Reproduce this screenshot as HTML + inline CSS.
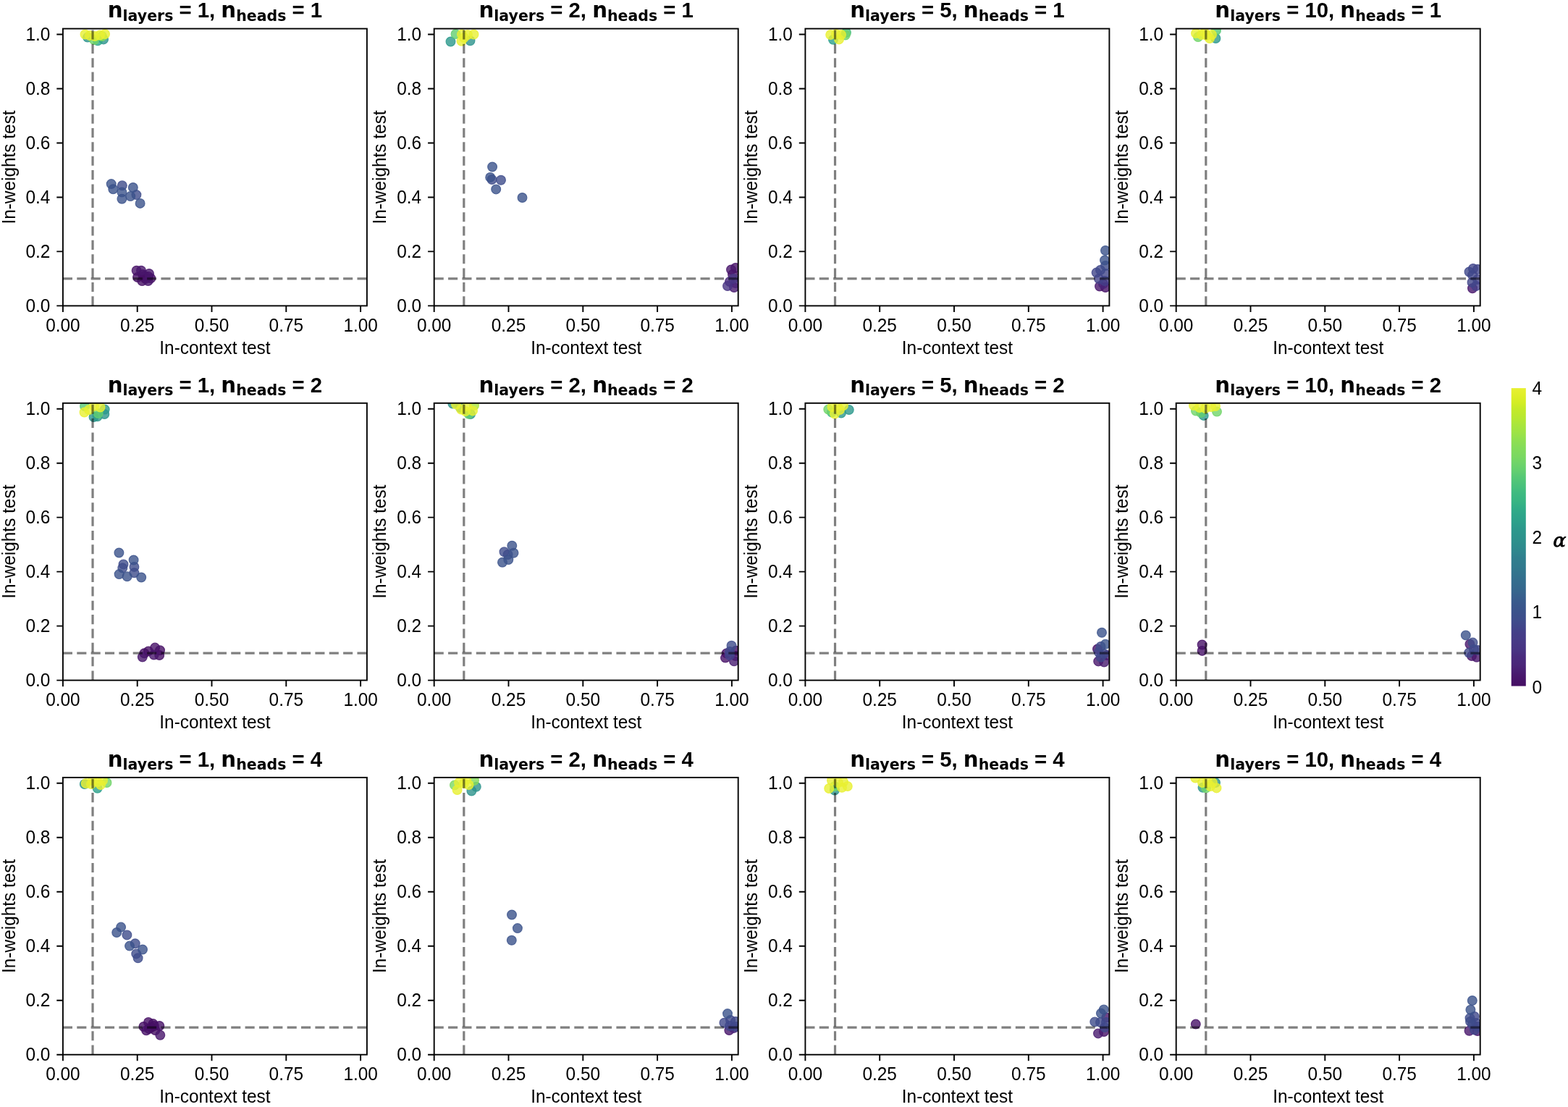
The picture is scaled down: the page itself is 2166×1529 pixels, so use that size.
<!DOCTYPE html><html><head><meta charset="utf-8"><style>html,body{margin:0;padding:0;background:#fff;}svg{display:block;}text{font-family:"Liberation Sans",Arial,sans-serif;fill:#000;}.dj{font-family:"DejaVu Sans",sans-serif;}.ttl{white-space:pre;}.tk{font-size:24.4px;}.lab{font-size:24.4px;}.ttl{font-size:29.3px;font-weight:bold;}</style></head><body>
<svg width="2166" height="1529" viewBox="0 0 2166 1529">
<rect width="2166" height="1529" fill="#fff"/>
<defs><clipPath id="c00"><rect x="86.9" y="39.6" width="420" height="382.8"/></clipPath><clipPath id="c01"><rect x="599.7" y="39.6" width="420" height="382.8"/></clipPath><clipPath id="c02"><rect x="1112.4" y="39.6" width="420" height="382.8"/></clipPath><clipPath id="c03"><rect x="1624.7" y="39.6" width="420" height="382.8"/></clipPath><clipPath id="c10"><rect x="86.9" y="556.8" width="420" height="382.8"/></clipPath><clipPath id="c11"><rect x="599.7" y="556.8" width="420" height="382.8"/></clipPath><clipPath id="c12"><rect x="1112.4" y="556.8" width="420" height="382.8"/></clipPath><clipPath id="c13"><rect x="1624.7" y="556.8" width="420" height="382.8"/></clipPath><clipPath id="c20"><rect x="86.9" y="1073.9" width="420" height="382.8"/></clipPath><clipPath id="c21"><rect x="599.7" y="1073.9" width="420" height="382.8"/></clipPath><clipPath id="c22"><rect x="1112.4" y="1073.9" width="420" height="382.8"/></clipPath><clipPath id="c23"><rect x="1624.7" y="1073.9" width="420" height="382.8"/></clipPath><linearGradient id="cbg" x1="0" y1="0" x2="0" y2="1"><stop offset="0" stop-color="#e8f032"/><stop offset="0.03" stop-color="#ddee28"/><stop offset="0.05" stop-color="#d2ed24"/><stop offset="0.07" stop-color="#c4ea29"/><stop offset="0.1" stop-color="#b7e831"/><stop offset="0.12" stop-color="#abe63b"/><stop offset="0.15" stop-color="#9de346"/><stop offset="0.17" stop-color="#91e04f"/><stop offset="0.2" stop-color="#84dc5a"/><stop offset="0.23" stop-color="#7ad862"/><stop offset="0.25" stop-color="#70d469"/><stop offset="0.28" stop-color="#61ce71"/><stop offset="0.3" stop-color="#55c876"/><stop offset="0.33" stop-color="#48c17c"/><stop offset="0.35" stop-color="#3fbb80"/><stop offset="0.38" stop-color="#37b583"/><stop offset="0.4" stop-color="#31ae87"/><stop offset="0.42" stop-color="#2ea789"/><stop offset="0.45" stop-color="#2ca08b"/><stop offset="0.47" stop-color="#2c998c"/><stop offset="0.5" stop-color="#2d938c"/><stop offset="0.53" stop-color="#2e8c8d"/><stop offset="0.55" stop-color="#2f868e"/><stop offset="0.57" stop-color="#307f8e"/><stop offset="0.6" stop-color="#317a8e"/><stop offset="0.62" stop-color="#32748e"/><stop offset="0.65" stop-color="#346d8e"/><stop offset="0.68" stop-color="#36668d"/><stop offset="0.7" stop-color="#385f8d"/><stop offset="0.72" stop-color="#39598c"/><stop offset="0.75" stop-color="#3b528b"/><stop offset="0.78" stop-color="#3f4c8b"/><stop offset="0.8" stop-color="#41468a"/><stop offset="0.82" stop-color="#443f88"/><stop offset="0.85" stop-color="#473a86"/><stop offset="0.88" stop-color="#483483"/><stop offset="0.9" stop-color="#492c7e"/><stop offset="0.93" stop-color="#4a2679"/><stop offset="0.95" stop-color="#491e72"/><stop offset="0.97" stop-color="#48166b"/><stop offset="1" stop-color="#460f64"/></linearGradient></defs>
<g clip-path="url(#c00)"><circle cx="208.3" cy="384.4" r="6.4" fill="#460f64" fill-opacity="0.8" stroke="#460f64" stroke-opacity="0.8" stroke-width="1.2"/><circle cx="196.3" cy="388.1" r="6.4" fill="#460f64" fill-opacity="0.8" stroke="#460f64" stroke-opacity="0.8" stroke-width="1.2"/><circle cx="190" cy="383" r="6.4" fill="#460f64" fill-opacity="0.8" stroke="#460f64" stroke-opacity="0.8" stroke-width="1.2"/><circle cx="200" cy="381" r="6.4" fill="#460f64" fill-opacity="0.8" stroke="#460f64" stroke-opacity="0.8" stroke-width="1.2"/><circle cx="201" cy="385" r="6.4" fill="#460f64" fill-opacity="0.8" stroke="#460f64" stroke-opacity="0.8" stroke-width="1.2"/><circle cx="205" cy="382" r="6.4" fill="#460f64" fill-opacity="0.8" stroke="#460f64" stroke-opacity="0.8" stroke-width="1.2"/><circle cx="197" cy="379" r="6.4" fill="#460f64" fill-opacity="0.8" stroke="#460f64" stroke-opacity="0.8" stroke-width="1.2"/><circle cx="188.6" cy="373.7" r="6.4" fill="#471268" fill-opacity="0.8" stroke="#471268" stroke-opacity="0.8" stroke-width="1.2"/><circle cx="195" cy="373.7" r="6.4" fill="#48166b" fill-opacity="0.8" stroke="#48166b" stroke-opacity="0.8" stroke-width="1.2"/><circle cx="206" cy="378" r="6.4" fill="#48166b" fill-opacity="0.8" stroke="#48166b" stroke-opacity="0.8" stroke-width="1.2"/><circle cx="204.6" cy="388" r="6.4" fill="#48166b" fill-opacity="0.8" stroke="#48166b" stroke-opacity="0.8" stroke-width="1.2"/><circle cx="168.8" cy="256.3" r="6.4" fill="#3f4c8b" fill-opacity="0.8" stroke="#3f4c8b" stroke-opacity="0.8" stroke-width="1.2"/><circle cx="188.4" cy="269.1" r="6.4" fill="#3f4c8b" fill-opacity="0.8" stroke="#3f4c8b" stroke-opacity="0.8" stroke-width="1.2"/><circle cx="153.7" cy="254.1" r="6.4" fill="#3b528b" fill-opacity="0.8" stroke="#3b528b" stroke-opacity="0.8" stroke-width="1.2"/><circle cx="156.3" cy="261.2" r="6.4" fill="#3b528b" fill-opacity="0.8" stroke="#3b528b" stroke-opacity="0.8" stroke-width="1.2"/><circle cx="168.4" cy="265.5" r="6.4" fill="#3b528b" fill-opacity="0.8" stroke="#3b528b" stroke-opacity="0.8" stroke-width="1.2"/><circle cx="168.4" cy="274.7" r="6.4" fill="#3b528b" fill-opacity="0.8" stroke="#3b528b" stroke-opacity="0.8" stroke-width="1.2"/><circle cx="183.8" cy="259" r="6.4" fill="#3b528b" fill-opacity="0.8" stroke="#3b528b" stroke-opacity="0.8" stroke-width="1.2"/><circle cx="180.2" cy="271.1" r="6.4" fill="#3b528b" fill-opacity="0.8" stroke="#3b528b" stroke-opacity="0.8" stroke-width="1.2"/><circle cx="193.6" cy="280.9" r="6.4" fill="#3b528b" fill-opacity="0.8" stroke="#3b528b" stroke-opacity="0.8" stroke-width="1.2"/><circle cx="121" cy="51.6" r="6.4" fill="#2d938c" fill-opacity="0.8" stroke="#2d938c" stroke-opacity="0.8" stroke-width="1.2"/><circle cx="143" cy="54.4" r="6.4" fill="#2d938c" fill-opacity="0.8" stroke="#2d938c" stroke-opacity="0.8" stroke-width="1.2"/><circle cx="135" cy="56.3" r="6.4" fill="#2ea789" fill-opacity="0.8" stroke="#2ea789" stroke-opacity="0.8" stroke-width="1.2"/><circle cx="130" cy="55" r="6.4" fill="#70d469" fill-opacity="0.8" stroke="#70d469" stroke-opacity="0.8" stroke-width="1.2"/><circle cx="141" cy="50" r="6.4" fill="#84dc5a" fill-opacity="0.8" stroke="#84dc5a" stroke-opacity="0.8" stroke-width="1.2"/><circle cx="117.5" cy="47.5" r="6.4" fill="#e8f032" fill-opacity="0.8" stroke="#e8f032" stroke-opacity="0.8" stroke-width="1.2"/><circle cx="124" cy="49" r="6.4" fill="#e8f032" fill-opacity="0.8" stroke="#e8f032" stroke-opacity="0.8" stroke-width="1.2"/><circle cx="131" cy="50" r="6.4" fill="#e8f032" fill-opacity="0.8" stroke="#e8f032" stroke-opacity="0.8" stroke-width="1.2"/><circle cx="138" cy="48.5" r="6.4" fill="#e8f032" fill-opacity="0.8" stroke="#e8f032" stroke-opacity="0.8" stroke-width="1.2"/><circle cx="145" cy="47" r="6.4" fill="#e8f032" fill-opacity="0.8" stroke="#e8f032" stroke-opacity="0.8" stroke-width="1.2"/><line x1="86.9" y1="384.91" x2="506.9" y2="384.91" stroke="#000" stroke-opacity="0.5" stroke-width="3.2" stroke-dasharray="13.1 6.26"/><line x1="128.02" y1="422.4" x2="128.02" y2="39.6" stroke="#000" stroke-opacity="0.5" stroke-width="3.2" stroke-dasharray="13.1 6.26"/></g><rect x="86.9" y="39.6" width="420" height="382.8" fill="none" stroke="#000" stroke-width="1.9" stroke-linejoin="miter" stroke-linecap="square"/><text class="tk" transform="translate(86.9 457.7) scale(1 1.04)" text-anchor="middle">0.00</text><text class="tk" transform="translate(189.7 457.7) scale(1 1.04)" text-anchor="middle">0.25</text><text class="tk" transform="translate(292.5 457.7) scale(1 1.04)" text-anchor="middle">0.50</text><text class="tk" transform="translate(395.3 457.7) scale(1 1.04)" text-anchor="middle">0.75</text><text class="tk" transform="translate(498.1 457.7) scale(1 1.04)" text-anchor="middle">1.00</text><text class="tk" transform="translate(69.3 431) scale(1 1.04)" text-anchor="end">0.0</text><text class="tk" transform="translate(69.3 356.02) scale(1 1.04)" text-anchor="end">0.2</text><text class="tk" transform="translate(69.3 281.04) scale(1 1.04)" text-anchor="end">0.4</text><text class="tk" transform="translate(69.3 206.06) scale(1 1.04)" text-anchor="end">0.6</text><text class="tk" transform="translate(69.3 131.08) scale(1 1.04)" text-anchor="end">0.8</text><text class="tk" transform="translate(69.3 56.1) scale(1 1.04)" text-anchor="end">1.0</text><path d="M86.9 422.4v8.6M189.7 422.4v8.6M292.5 422.4v8.6M395.3 422.4v8.6M498.1 422.4v8.6M86.9 422.4h-8.6M86.9 347.42h-8.6M86.9 272.44h-8.6M86.9 197.46h-8.6M86.9 122.48h-8.6M86.9 47.5h-8.6" stroke="#000" stroke-width="1.9" fill="none"/><text class="lab" transform="translate(296.9 488.6) scale(1 1.04)" text-anchor="middle">In-context test</text><text class="lab" transform="translate(20.6 231) rotate(-90) scale(1 1.04)" text-anchor="middle">In-weights test</text><text class="ttl" x="296.9" y="24.3" text-anchor="middle"><tspan class="dj">n</tspan><tspan class="dj" font-size="20.5" dy="4.4">layers</tspan><tspan dy="-4.4"> = 1, </tspan><tspan class="dj">n</tspan><tspan class="dj" font-size="20.5" dy="4.4">heads</tspan><tspan dy="-4.4"> = 1</tspan></text>
<g clip-path="url(#c01)"><circle cx="1016" cy="370" r="6.4" fill="#471268" fill-opacity="0.8" stroke="#471268" stroke-opacity="0.8" stroke-width="1.2"/><circle cx="1012" cy="379" r="6.4" fill="#471268" fill-opacity="0.8" stroke="#471268" stroke-opacity="0.8" stroke-width="1.2"/><circle cx="1010" cy="372.5" r="6.4" fill="#48166b" fill-opacity="0.8" stroke="#48166b" stroke-opacity="0.8" stroke-width="1.2"/><circle cx="1014" cy="397" r="6.4" fill="#491a6f" fill-opacity="0.8" stroke="#491a6f" stroke-opacity="0.8" stroke-width="1.2"/><circle cx="1016" cy="391" r="6.4" fill="#4a2679" fill-opacity="0.8" stroke="#4a2679" stroke-opacity="0.8" stroke-width="1.2"/><circle cx="1008" cy="389" r="6.4" fill="#4a297c" fill-opacity="0.8" stroke="#4a297c" stroke-opacity="0.8" stroke-width="1.2"/><circle cx="1005" cy="395" r="6.4" fill="#483483" fill-opacity="0.8" stroke="#483483" stroke-opacity="0.8" stroke-width="1.2"/><circle cx="1013" cy="385" r="6.4" fill="#483785" fill-opacity="0.8" stroke="#483785" stroke-opacity="0.8" stroke-width="1.2"/><circle cx="679.5" cy="248" r="6.4" fill="#3f4c8b" fill-opacity="0.8" stroke="#3f4c8b" stroke-opacity="0.8" stroke-width="1.2"/><circle cx="692" cy="248.8" r="6.4" fill="#3f4c8b" fill-opacity="0.8" stroke="#3f4c8b" stroke-opacity="0.8" stroke-width="1.2"/><circle cx="680.1" cy="230.5" r="6.4" fill="#3b528b" fill-opacity="0.8" stroke="#3b528b" stroke-opacity="0.8" stroke-width="1.2"/><circle cx="677.2" cy="244.9" r="6.4" fill="#3b528b" fill-opacity="0.8" stroke="#3b528b" stroke-opacity="0.8" stroke-width="1.2"/><circle cx="685.2" cy="261.4" r="6.4" fill="#3b528b" fill-opacity="0.8" stroke="#3b528b" stroke-opacity="0.8" stroke-width="1.2"/><circle cx="721.5" cy="273" r="6.4" fill="#3b528b" fill-opacity="0.8" stroke="#3b528b" stroke-opacity="0.8" stroke-width="1.2"/><circle cx="649.5" cy="56.3" r="6.4" fill="#2d938c" fill-opacity="0.8" stroke="#2d938c" stroke-opacity="0.8" stroke-width="1.2"/><circle cx="622.5" cy="57.5" r="6.4" fill="#2c998c" fill-opacity="0.8" stroke="#2c998c" stroke-opacity="0.8" stroke-width="1.2"/><circle cx="629.5" cy="47" r="6.4" fill="#61ce71" fill-opacity="0.8" stroke="#61ce71" stroke-opacity="0.8" stroke-width="1.2"/><circle cx="637.5" cy="56.7" r="6.4" fill="#e8f032" fill-opacity="0.8" stroke="#e8f032" stroke-opacity="0.8" stroke-width="1.2"/><circle cx="638" cy="47.5" r="6.4" fill="#e8f032" fill-opacity="0.8" stroke="#e8f032" stroke-opacity="0.8" stroke-width="1.2"/><circle cx="646" cy="48" r="6.4" fill="#e8f032" fill-opacity="0.8" stroke="#e8f032" stroke-opacity="0.8" stroke-width="1.2"/><circle cx="654.5" cy="47.5" r="6.4" fill="#e8f032" fill-opacity="0.8" stroke="#e8f032" stroke-opacity="0.8" stroke-width="1.2"/><circle cx="641" cy="52" r="6.4" fill="#e8f032" fill-opacity="0.8" stroke="#e8f032" stroke-opacity="0.8" stroke-width="1.2"/><line x1="599.7" y1="384.91" x2="1019.7" y2="384.91" stroke="#000" stroke-opacity="0.5" stroke-width="3.2" stroke-dasharray="13.1 6.26"/><line x1="640.82" y1="422.4" x2="640.82" y2="39.6" stroke="#000" stroke-opacity="0.5" stroke-width="3.2" stroke-dasharray="13.1 6.26"/></g><rect x="599.7" y="39.6" width="420" height="382.8" fill="none" stroke="#000" stroke-width="1.9" stroke-linejoin="miter" stroke-linecap="square"/><text class="tk" transform="translate(599.7 457.7) scale(1 1.04)" text-anchor="middle">0.00</text><text class="tk" transform="translate(702.5 457.7) scale(1 1.04)" text-anchor="middle">0.25</text><text class="tk" transform="translate(805.3 457.7) scale(1 1.04)" text-anchor="middle">0.50</text><text class="tk" transform="translate(908.1 457.7) scale(1 1.04)" text-anchor="middle">0.75</text><text class="tk" transform="translate(1010.9 457.7) scale(1 1.04)" text-anchor="middle">1.00</text><text class="tk" transform="translate(582.1 431) scale(1 1.04)" text-anchor="end">0.0</text><text class="tk" transform="translate(582.1 356.02) scale(1 1.04)" text-anchor="end">0.2</text><text class="tk" transform="translate(582.1 281.04) scale(1 1.04)" text-anchor="end">0.4</text><text class="tk" transform="translate(582.1 206.06) scale(1 1.04)" text-anchor="end">0.6</text><text class="tk" transform="translate(582.1 131.08) scale(1 1.04)" text-anchor="end">0.8</text><text class="tk" transform="translate(582.1 56.1) scale(1 1.04)" text-anchor="end">1.0</text><path d="M599.7 422.4v8.6M702.5 422.4v8.6M805.3 422.4v8.6M908.1 422.4v8.6M1010.9 422.4v8.6M599.7 422.4h-8.6M599.7 347.42h-8.6M599.7 272.44h-8.6M599.7 197.46h-8.6M599.7 122.48h-8.6M599.7 47.5h-8.6" stroke="#000" stroke-width="1.9" fill="none"/><text class="lab" transform="translate(809.7 488.6) scale(1 1.04)" text-anchor="middle">In-context test</text><text class="lab" transform="translate(533.4 231) rotate(-90) scale(1 1.04)" text-anchor="middle">In-weights test</text><text class="ttl" x="809.7" y="24.3" text-anchor="middle"><tspan class="dj">n</tspan><tspan class="dj" font-size="20.5" dy="4.4">layers</tspan><tspan dy="-4.4"> = 2, </tspan><tspan class="dj">n</tspan><tspan class="dj" font-size="20.5" dy="4.4">heads</tspan><tspan dy="-4.4"> = 1</tspan></text>
<g clip-path="url(#c02)"><circle cx="1527" cy="397" r="6.4" fill="#471268" fill-opacity="0.8" stroke="#471268" stroke-opacity="0.8" stroke-width="1.2"/><circle cx="1519" cy="395.5" r="6.4" fill="#48166b" fill-opacity="0.8" stroke="#48166b" stroke-opacity="0.8" stroke-width="1.2"/><circle cx="1524" cy="392" r="6.4" fill="#4a2679" fill-opacity="0.8" stroke="#4a2679" stroke-opacity="0.8" stroke-width="1.2"/><circle cx="1526" cy="388" r="6.4" fill="#443f88" fill-opacity="0.8" stroke="#443f88" stroke-opacity="0.8" stroke-width="1.2"/><circle cx="1518" cy="385" r="6.4" fill="#43438a" fill-opacity="0.8" stroke="#43438a" stroke-opacity="0.8" stroke-width="1.2"/><circle cx="1514.6" cy="376.6" r="6.4" fill="#41468a" fill-opacity="0.8" stroke="#41468a" stroke-opacity="0.8" stroke-width="1.2"/><circle cx="1527" cy="378" r="6.4" fill="#41468a" fill-opacity="0.8" stroke="#41468a" stroke-opacity="0.8" stroke-width="1.2"/><circle cx="1520" cy="373" r="6.4" fill="#40498b" fill-opacity="0.8" stroke="#40498b" stroke-opacity="0.8" stroke-width="1.2"/><circle cx="1527" cy="367" r="6.4" fill="#3f4c8b" fill-opacity="0.8" stroke="#3f4c8b" stroke-opacity="0.8" stroke-width="1.2"/><circle cx="1527" cy="346" r="6.4" fill="#3b528b" fill-opacity="0.8" stroke="#3b528b" stroke-opacity="0.8" stroke-width="1.2"/><circle cx="1526" cy="359.5" r="6.4" fill="#3b528b" fill-opacity="0.8" stroke="#3b528b" stroke-opacity="0.8" stroke-width="1.2"/><circle cx="1151" cy="54.7" r="6.4" fill="#2ca08b" fill-opacity="0.8" stroke="#2ca08b" stroke-opacity="0.8" stroke-width="1.2"/><circle cx="1169" cy="45" r="6.4" fill="#48c17c" fill-opacity="0.8" stroke="#48c17c" stroke-opacity="0.8" stroke-width="1.2"/><circle cx="1167.8" cy="48.5" r="6.4" fill="#70d469" fill-opacity="0.8" stroke="#70d469" stroke-opacity="0.8" stroke-width="1.2"/><circle cx="1147.2" cy="48" r="6.4" fill="#e8f032" fill-opacity="0.8" stroke="#e8f032" stroke-opacity="0.8" stroke-width="1.2"/><circle cx="1155" cy="47" r="6.4" fill="#e8f032" fill-opacity="0.8" stroke="#e8f032" stroke-opacity="0.8" stroke-width="1.2"/><circle cx="1162" cy="48" r="6.4" fill="#e8f032" fill-opacity="0.8" stroke="#e8f032" stroke-opacity="0.8" stroke-width="1.2"/><circle cx="1159" cy="54.4" r="6.4" fill="#e8f032" fill-opacity="0.8" stroke="#e8f032" stroke-opacity="0.8" stroke-width="1.2"/><line x1="1112.4" y1="384.91" x2="1532.4" y2="384.91" stroke="#000" stroke-opacity="0.5" stroke-width="3.2" stroke-dasharray="13.1 6.26"/><line x1="1153.52" y1="422.4" x2="1153.52" y2="39.6" stroke="#000" stroke-opacity="0.5" stroke-width="3.2" stroke-dasharray="13.1 6.26"/></g><rect x="1112.4" y="39.6" width="420" height="382.8" fill="none" stroke="#000" stroke-width="1.9" stroke-linejoin="miter" stroke-linecap="square"/><text class="tk" transform="translate(1112.4 457.7) scale(1 1.04)" text-anchor="middle">0.00</text><text class="tk" transform="translate(1215.2 457.7) scale(1 1.04)" text-anchor="middle">0.25</text><text class="tk" transform="translate(1318 457.7) scale(1 1.04)" text-anchor="middle">0.50</text><text class="tk" transform="translate(1420.8 457.7) scale(1 1.04)" text-anchor="middle">0.75</text><text class="tk" transform="translate(1523.6 457.7) scale(1 1.04)" text-anchor="middle">1.00</text><text class="tk" transform="translate(1094.8 431) scale(1 1.04)" text-anchor="end">0.0</text><text class="tk" transform="translate(1094.8 356.02) scale(1 1.04)" text-anchor="end">0.2</text><text class="tk" transform="translate(1094.8 281.04) scale(1 1.04)" text-anchor="end">0.4</text><text class="tk" transform="translate(1094.8 206.06) scale(1 1.04)" text-anchor="end">0.6</text><text class="tk" transform="translate(1094.8 131.08) scale(1 1.04)" text-anchor="end">0.8</text><text class="tk" transform="translate(1094.8 56.1) scale(1 1.04)" text-anchor="end">1.0</text><path d="M1112.4 422.4v8.6M1215.2 422.4v8.6M1318 422.4v8.6M1420.8 422.4v8.6M1523.6 422.4v8.6M1112.4 422.4h-8.6M1112.4 347.42h-8.6M1112.4 272.44h-8.6M1112.4 197.46h-8.6M1112.4 122.48h-8.6M1112.4 47.5h-8.6" stroke="#000" stroke-width="1.9" fill="none"/><text class="lab" transform="translate(1322.4 488.6) scale(1 1.04)" text-anchor="middle">In-context test</text><text class="lab" transform="translate(1046.1 231) rotate(-90) scale(1 1.04)" text-anchor="middle">In-weights test</text><text class="ttl" x="1322.4" y="24.3" text-anchor="middle"><tspan class="dj">n</tspan><tspan class="dj" font-size="20.5" dy="4.4">layers</tspan><tspan dy="-4.4"> = 5, </tspan><tspan class="dj">n</tspan><tspan class="dj" font-size="20.5" dy="4.4">heads</tspan><tspan dy="-4.4"> = 1</tspan></text>
<g clip-path="url(#c03)"><circle cx="2034" cy="398.3" r="6.4" fill="#48166b" fill-opacity="0.8" stroke="#48166b" stroke-opacity="0.8" stroke-width="1.2"/><circle cx="2039" cy="395" r="6.4" fill="#443f88" fill-opacity="0.8" stroke="#443f88" stroke-opacity="0.8" stroke-width="1.2"/><circle cx="2041" cy="386" r="6.4" fill="#43438a" fill-opacity="0.8" stroke="#43438a" stroke-opacity="0.8" stroke-width="1.2"/><circle cx="2034.9" cy="371" r="6.4" fill="#41468a" fill-opacity="0.8" stroke="#41468a" stroke-opacity="0.8" stroke-width="1.2"/><circle cx="2041" cy="372" r="6.4" fill="#41468a" fill-opacity="0.8" stroke="#41468a" stroke-opacity="0.8" stroke-width="1.2"/><circle cx="2034" cy="380" r="6.4" fill="#41468a" fill-opacity="0.8" stroke="#41468a" stroke-opacity="0.8" stroke-width="1.2"/><circle cx="2033.5" cy="390" r="6.4" fill="#41468a" fill-opacity="0.8" stroke="#41468a" stroke-opacity="0.8" stroke-width="1.2"/><circle cx="2029.5" cy="375.5" r="6.4" fill="#40498b" fill-opacity="0.8" stroke="#40498b" stroke-opacity="0.8" stroke-width="1.2"/><circle cx="1679.4" cy="53" r="6.4" fill="#2c998c" fill-opacity="0.8" stroke="#2c998c" stroke-opacity="0.8" stroke-width="1.2"/><circle cx="1680" cy="42" r="6.4" fill="#55c876" fill-opacity="0.8" stroke="#55c876" stroke-opacity="0.8" stroke-width="1.2"/><circle cx="1655" cy="51.1" r="6.4" fill="#70d469" fill-opacity="0.8" stroke="#70d469" stroke-opacity="0.8" stroke-width="1.2"/><circle cx="1664" cy="45" r="6.4" fill="#e8f032" fill-opacity="0.8" stroke="#e8f032" stroke-opacity="0.8" stroke-width="1.2"/><circle cx="1652" cy="46" r="6.4" fill="#e8f032" fill-opacity="0.8" stroke="#e8f032" stroke-opacity="0.8" stroke-width="1.2"/><circle cx="1660" cy="48" r="6.4" fill="#e8f032" fill-opacity="0.8" stroke="#e8f032" stroke-opacity="0.8" stroke-width="1.2"/><circle cx="1667" cy="49" r="6.4" fill="#e8f032" fill-opacity="0.8" stroke="#e8f032" stroke-opacity="0.8" stroke-width="1.2"/><circle cx="1674" cy="48" r="6.4" fill="#e8f032" fill-opacity="0.8" stroke="#e8f032" stroke-opacity="0.8" stroke-width="1.2"/><circle cx="1671" cy="53" r="6.4" fill="#e8f032" fill-opacity="0.8" stroke="#e8f032" stroke-opacity="0.8" stroke-width="1.2"/><line x1="1624.7" y1="384.91" x2="2044.7" y2="384.91" stroke="#000" stroke-opacity="0.5" stroke-width="3.2" stroke-dasharray="13.1 6.26"/><line x1="1665.82" y1="422.4" x2="1665.82" y2="39.6" stroke="#000" stroke-opacity="0.5" stroke-width="3.2" stroke-dasharray="13.1 6.26"/></g><rect x="1624.7" y="39.6" width="420" height="382.8" fill="none" stroke="#000" stroke-width="1.9" stroke-linejoin="miter" stroke-linecap="square"/><text class="tk" transform="translate(1624.7 457.7) scale(1 1.04)" text-anchor="middle">0.00</text><text class="tk" transform="translate(1727.5 457.7) scale(1 1.04)" text-anchor="middle">0.25</text><text class="tk" transform="translate(1830.3 457.7) scale(1 1.04)" text-anchor="middle">0.50</text><text class="tk" transform="translate(1933.1 457.7) scale(1 1.04)" text-anchor="middle">0.75</text><text class="tk" transform="translate(2035.9 457.7) scale(1 1.04)" text-anchor="middle">1.00</text><text class="tk" transform="translate(1607.1 431) scale(1 1.04)" text-anchor="end">0.0</text><text class="tk" transform="translate(1607.1 356.02) scale(1 1.04)" text-anchor="end">0.2</text><text class="tk" transform="translate(1607.1 281.04) scale(1 1.04)" text-anchor="end">0.4</text><text class="tk" transform="translate(1607.1 206.06) scale(1 1.04)" text-anchor="end">0.6</text><text class="tk" transform="translate(1607.1 131.08) scale(1 1.04)" text-anchor="end">0.8</text><text class="tk" transform="translate(1607.1 56.1) scale(1 1.04)" text-anchor="end">1.0</text><path d="M1624.7 422.4v8.6M1727.5 422.4v8.6M1830.3 422.4v8.6M1933.1 422.4v8.6M2035.9 422.4v8.6M1624.7 422.4h-8.6M1624.7 347.42h-8.6M1624.7 272.44h-8.6M1624.7 197.46h-8.6M1624.7 122.48h-8.6M1624.7 47.5h-8.6" stroke="#000" stroke-width="1.9" fill="none"/><text class="lab" transform="translate(1834.7 488.6) scale(1 1.04)" text-anchor="middle">In-context test</text><text class="lab" transform="translate(1558.4 231) rotate(-90) scale(1 1.04)" text-anchor="middle">In-weights test</text><text class="ttl" x="1834.7" y="24.3" text-anchor="middle"><tspan class="dj">n</tspan><tspan class="dj" font-size="20.5" dy="4.4">layers</tspan><tspan dy="-4.4"> = 10, </tspan><tspan class="dj">n</tspan><tspan class="dj" font-size="20.5" dy="4.4">heads</tspan><tspan dy="-4.4"> = 1</tspan></text>
<g clip-path="url(#c10)"><circle cx="199.4" cy="902.2" r="6.4" fill="#460f64" fill-opacity="0.8" stroke="#460f64" stroke-opacity="0.8" stroke-width="1.2"/><circle cx="205" cy="899.4" r="6.4" fill="#460f64" fill-opacity="0.8" stroke="#460f64" stroke-opacity="0.8" stroke-width="1.2"/><circle cx="221" cy="898.3" r="6.4" fill="#460f64" fill-opacity="0.8" stroke="#460f64" stroke-opacity="0.8" stroke-width="1.2"/><circle cx="220.2" cy="905" r="6.4" fill="#460f64" fill-opacity="0.8" stroke="#460f64" stroke-opacity="0.8" stroke-width="1.2"/><circle cx="214.1" cy="894.6" r="6.4" fill="#471268" fill-opacity="0.8" stroke="#471268" stroke-opacity="0.8" stroke-width="1.2"/><circle cx="196.8" cy="907.5" r="6.4" fill="#48166b" fill-opacity="0.8" stroke="#48166b" stroke-opacity="0.8" stroke-width="1.2"/><circle cx="212.6" cy="904.5" r="6.4" fill="#48166b" fill-opacity="0.8" stroke="#48166b" stroke-opacity="0.8" stroke-width="1.2"/><circle cx="170.5" cy="779.4" r="6.4" fill="#3f4c8b" fill-opacity="0.8" stroke="#3f4c8b" stroke-opacity="0.8" stroke-width="1.2"/><circle cx="169.3" cy="784.5" r="6.4" fill="#3f4c8b" fill-opacity="0.8" stroke="#3f4c8b" stroke-opacity="0.8" stroke-width="1.2"/><circle cx="185.4" cy="782.9" r="6.4" fill="#3f4c8b" fill-opacity="0.8" stroke="#3f4c8b" stroke-opacity="0.8" stroke-width="1.2"/><circle cx="185.4" cy="791.2" r="6.4" fill="#3f4c8b" fill-opacity="0.8" stroke="#3f4c8b" stroke-opacity="0.8" stroke-width="1.2"/><circle cx="164.4" cy="763.5" r="6.4" fill="#3b528b" fill-opacity="0.8" stroke="#3b528b" stroke-opacity="0.8" stroke-width="1.2"/><circle cx="184.6" cy="773.5" r="6.4" fill="#3b528b" fill-opacity="0.8" stroke="#3b528b" stroke-opacity="0.8" stroke-width="1.2"/><circle cx="164.6" cy="793.1" r="6.4" fill="#3b528b" fill-opacity="0.8" stroke="#3b528b" stroke-opacity="0.8" stroke-width="1.2"/><circle cx="175.6" cy="796.3" r="6.4" fill="#3b528b" fill-opacity="0.8" stroke="#3b528b" stroke-opacity="0.8" stroke-width="1.2"/><circle cx="195.2" cy="797.5" r="6.4" fill="#3b528b" fill-opacity="0.8" stroke="#3b528b" stroke-opacity="0.8" stroke-width="1.2"/><circle cx="144.3" cy="572" r="6.4" fill="#2d938c" fill-opacity="0.8" stroke="#2d938c" stroke-opacity="0.8" stroke-width="1.2"/><circle cx="129.5" cy="576" r="6.4" fill="#2d938c" fill-opacity="0.8" stroke="#2d938c" stroke-opacity="0.8" stroke-width="1.2"/><circle cx="144.7" cy="565.5" r="6.4" fill="#2c998c" fill-opacity="0.8" stroke="#2c998c" stroke-opacity="0.8" stroke-width="1.2"/><circle cx="134.6" cy="575.3" r="6.4" fill="#2c998c" fill-opacity="0.8" stroke="#2c998c" stroke-opacity="0.8" stroke-width="1.2"/><circle cx="117" cy="561" r="6.4" fill="#55c876" fill-opacity="0.8" stroke="#55c876" stroke-opacity="0.8" stroke-width="1.2"/><circle cx="135.7" cy="571" r="6.4" fill="#61ce71" fill-opacity="0.8" stroke="#61ce71" stroke-opacity="0.8" stroke-width="1.2"/><circle cx="116.5" cy="569.5" r="6.4" fill="#e8f032" fill-opacity="0.8" stroke="#e8f032" stroke-opacity="0.8" stroke-width="1.2"/><circle cx="123" cy="566" r="6.4" fill="#e8f032" fill-opacity="0.8" stroke="#e8f032" stroke-opacity="0.8" stroke-width="1.2"/><circle cx="130" cy="561" r="6.4" fill="#e8f032" fill-opacity="0.8" stroke="#e8f032" stroke-opacity="0.8" stroke-width="1.2"/><circle cx="138.5" cy="562.5" r="6.4" fill="#e8f032" fill-opacity="0.8" stroke="#e8f032" stroke-opacity="0.8" stroke-width="1.2"/><line x1="86.9" y1="902.11" x2="506.9" y2="902.11" stroke="#000" stroke-opacity="0.5" stroke-width="3.2" stroke-dasharray="13.1 6.26"/><line x1="128.02" y1="939.6" x2="128.02" y2="556.8" stroke="#000" stroke-opacity="0.5" stroke-width="3.2" stroke-dasharray="13.1 6.26"/></g><rect x="86.9" y="556.8" width="420" height="382.8" fill="none" stroke="#000" stroke-width="1.9" stroke-linejoin="miter" stroke-linecap="square"/><text class="tk" transform="translate(86.9 974.9) scale(1 1.04)" text-anchor="middle">0.00</text><text class="tk" transform="translate(189.7 974.9) scale(1 1.04)" text-anchor="middle">0.25</text><text class="tk" transform="translate(292.5 974.9) scale(1 1.04)" text-anchor="middle">0.50</text><text class="tk" transform="translate(395.3 974.9) scale(1 1.04)" text-anchor="middle">0.75</text><text class="tk" transform="translate(498.1 974.9) scale(1 1.04)" text-anchor="middle">1.00</text><text class="tk" transform="translate(69.3 948.2) scale(1 1.04)" text-anchor="end">0.0</text><text class="tk" transform="translate(69.3 873.22) scale(1 1.04)" text-anchor="end">0.2</text><text class="tk" transform="translate(69.3 798.24) scale(1 1.04)" text-anchor="end">0.4</text><text class="tk" transform="translate(69.3 723.26) scale(1 1.04)" text-anchor="end">0.6</text><text class="tk" transform="translate(69.3 648.28) scale(1 1.04)" text-anchor="end">0.8</text><text class="tk" transform="translate(69.3 573.3) scale(1 1.04)" text-anchor="end">1.0</text><path d="M86.9 939.6v8.6M189.7 939.6v8.6M292.5 939.6v8.6M395.3 939.6v8.6M498.1 939.6v8.6M86.9 939.6h-8.6M86.9 864.62h-8.6M86.9 789.64h-8.6M86.9 714.66h-8.6M86.9 639.68h-8.6M86.9 564.7h-8.6" stroke="#000" stroke-width="1.9" fill="none"/><text class="lab" transform="translate(296.9 1005.8) scale(1 1.04)" text-anchor="middle">In-context test</text><text class="lab" transform="translate(20.6 748.2) rotate(-90) scale(1 1.04)" text-anchor="middle">In-weights test</text><text class="ttl" x="296.9" y="541.5" text-anchor="middle"><tspan class="dj">n</tspan><tspan class="dj" font-size="20.5" dy="4.4">layers</tspan><tspan dy="-4.4"> = 1, </tspan><tspan class="dj">n</tspan><tspan class="dj" font-size="20.5" dy="4.4">heads</tspan><tspan dy="-4.4"> = 2</tspan></text>
<g clip-path="url(#c11)"><circle cx="1016.7" cy="898.8" r="6.4" fill="#460f64" fill-opacity="0.8" stroke="#460f64" stroke-opacity="0.8" stroke-width="1.2"/><circle cx="1003.6" cy="902.4" r="6.4" fill="#471268" fill-opacity="0.8" stroke="#471268" stroke-opacity="0.8" stroke-width="1.2"/><circle cx="1002" cy="908.6" r="6.4" fill="#471268" fill-opacity="0.8" stroke="#471268" stroke-opacity="0.8" stroke-width="1.2"/><circle cx="1016" cy="906" r="6.4" fill="#471268" fill-opacity="0.8" stroke="#471268" stroke-opacity="0.8" stroke-width="1.2"/><circle cx="1014" cy="913.3" r="6.4" fill="#491e72" fill-opacity="0.8" stroke="#491e72" stroke-opacity="0.8" stroke-width="1.2"/><circle cx="1008" cy="905" r="6.4" fill="#43438a" fill-opacity="0.8" stroke="#43438a" stroke-opacity="0.8" stroke-width="1.2"/><circle cx="1008" cy="900" r="6.4" fill="#41468a" fill-opacity="0.8" stroke="#41468a" stroke-opacity="0.8" stroke-width="1.2"/><circle cx="696.5" cy="762.3" r="6.4" fill="#3f4c8b" fill-opacity="0.8" stroke="#3f4c8b" stroke-opacity="0.8" stroke-width="1.2"/><circle cx="701.6" cy="766" r="6.4" fill="#3f4c8b" fill-opacity="0.8" stroke="#3f4c8b" stroke-opacity="0.8" stroke-width="1.2"/><circle cx="1010.5" cy="891.8" r="6.4" fill="#3f4c8b" fill-opacity="0.8" stroke="#3f4c8b" stroke-opacity="0.8" stroke-width="1.2"/><circle cx="707.3" cy="753.7" r="6.4" fill="#3b528b" fill-opacity="0.8" stroke="#3b528b" stroke-opacity="0.8" stroke-width="1.2"/><circle cx="709.5" cy="763.8" r="6.4" fill="#3b528b" fill-opacity="0.8" stroke="#3b528b" stroke-opacity="0.8" stroke-width="1.2"/><circle cx="702.3" cy="773.1" r="6.4" fill="#3b528b" fill-opacity="0.8" stroke="#3b528b" stroke-opacity="0.8" stroke-width="1.2"/><circle cx="694" cy="776.7" r="6.4" fill="#3b528b" fill-opacity="0.8" stroke="#3b528b" stroke-opacity="0.8" stroke-width="1.2"/><circle cx="625.4" cy="557.5" r="6.4" fill="#2d938c" fill-opacity="0.8" stroke="#2d938c" stroke-opacity="0.8" stroke-width="1.2"/><circle cx="636" cy="563" r="6.4" fill="#2d938c" fill-opacity="0.8" stroke="#2d938c" stroke-opacity="0.8" stroke-width="1.2"/><circle cx="650" cy="572" r="6.4" fill="#2c998c" fill-opacity="0.8" stroke="#2c998c" stroke-opacity="0.8" stroke-width="1.2"/><circle cx="647.4" cy="571.7" r="6.4" fill="#61ce71" fill-opacity="0.8" stroke="#61ce71" stroke-opacity="0.8" stroke-width="1.2"/><circle cx="655" cy="560" r="6.4" fill="#abe63b" fill-opacity="0.8" stroke="#abe63b" stroke-opacity="0.8" stroke-width="1.2"/><circle cx="630" cy="558.5" r="6.4" fill="#e8f032" fill-opacity="0.8" stroke="#e8f032" stroke-opacity="0.8" stroke-width="1.2"/><circle cx="637" cy="565.5" r="6.4" fill="#e8f032" fill-opacity="0.8" stroke="#e8f032" stroke-opacity="0.8" stroke-width="1.2"/><circle cx="645" cy="561" r="6.4" fill="#e8f032" fill-opacity="0.8" stroke="#e8f032" stroke-opacity="0.8" stroke-width="1.2"/><circle cx="653" cy="567.4" r="6.4" fill="#e8f032" fill-opacity="0.8" stroke="#e8f032" stroke-opacity="0.8" stroke-width="1.2"/><circle cx="643" cy="568" r="6.4" fill="#e8f032" fill-opacity="0.8" stroke="#e8f032" stroke-opacity="0.8" stroke-width="1.2"/><line x1="599.7" y1="902.11" x2="1019.7" y2="902.11" stroke="#000" stroke-opacity="0.5" stroke-width="3.2" stroke-dasharray="13.1 6.26"/><line x1="640.82" y1="939.6" x2="640.82" y2="556.8" stroke="#000" stroke-opacity="0.5" stroke-width="3.2" stroke-dasharray="13.1 6.26"/></g><rect x="599.7" y="556.8" width="420" height="382.8" fill="none" stroke="#000" stroke-width="1.9" stroke-linejoin="miter" stroke-linecap="square"/><text class="tk" transform="translate(599.7 974.9) scale(1 1.04)" text-anchor="middle">0.00</text><text class="tk" transform="translate(702.5 974.9) scale(1 1.04)" text-anchor="middle">0.25</text><text class="tk" transform="translate(805.3 974.9) scale(1 1.04)" text-anchor="middle">0.50</text><text class="tk" transform="translate(908.1 974.9) scale(1 1.04)" text-anchor="middle">0.75</text><text class="tk" transform="translate(1010.9 974.9) scale(1 1.04)" text-anchor="middle">1.00</text><text class="tk" transform="translate(582.1 948.2) scale(1 1.04)" text-anchor="end">0.0</text><text class="tk" transform="translate(582.1 873.22) scale(1 1.04)" text-anchor="end">0.2</text><text class="tk" transform="translate(582.1 798.24) scale(1 1.04)" text-anchor="end">0.4</text><text class="tk" transform="translate(582.1 723.26) scale(1 1.04)" text-anchor="end">0.6</text><text class="tk" transform="translate(582.1 648.28) scale(1 1.04)" text-anchor="end">0.8</text><text class="tk" transform="translate(582.1 573.3) scale(1 1.04)" text-anchor="end">1.0</text><path d="M599.7 939.6v8.6M702.5 939.6v8.6M805.3 939.6v8.6M908.1 939.6v8.6M1010.9 939.6v8.6M599.7 939.6h-8.6M599.7 864.62h-8.6M599.7 789.64h-8.6M599.7 714.66h-8.6M599.7 639.68h-8.6M599.7 564.7h-8.6" stroke="#000" stroke-width="1.9" fill="none"/><text class="lab" transform="translate(809.7 1005.8) scale(1 1.04)" text-anchor="middle">In-context test</text><text class="lab" transform="translate(533.4 748.2) rotate(-90) scale(1 1.04)" text-anchor="middle">In-weights test</text><text class="ttl" x="809.7" y="541.5" text-anchor="middle"><tspan class="dj">n</tspan><tspan class="dj" font-size="20.5" dy="4.4">layers</tspan><tspan dy="-4.4"> = 2, </tspan><tspan class="dj">n</tspan><tspan class="dj" font-size="20.5" dy="4.4">heads</tspan><tspan dy="-4.4"> = 2</tspan></text>
<g clip-path="url(#c12)"><circle cx="1516" cy="896.5" r="6.4" fill="#471268" fill-opacity="0.8" stroke="#471268" stroke-opacity="0.8" stroke-width="1.2"/><circle cx="1517.2" cy="913.4" r="6.4" fill="#48166b" fill-opacity="0.8" stroke="#48166b" stroke-opacity="0.8" stroke-width="1.2"/><circle cx="1525.2" cy="914.5" r="6.4" fill="#491a6f" fill-opacity="0.8" stroke="#491a6f" stroke-opacity="0.8" stroke-width="1.2"/><circle cx="1529" cy="905" r="6.4" fill="#491e72" fill-opacity="0.8" stroke="#491e72" stroke-opacity="0.8" stroke-width="1.2"/><circle cx="1517.7" cy="900.8" r="6.4" fill="#41468a" fill-opacity="0.8" stroke="#41468a" stroke-opacity="0.8" stroke-width="1.2"/><circle cx="1520.6" cy="907.7" r="6.4" fill="#41468a" fill-opacity="0.8" stroke="#41468a" stroke-opacity="0.8" stroke-width="1.2"/><circle cx="1524.8" cy="903" r="6.4" fill="#40498b" fill-opacity="0.8" stroke="#40498b" stroke-opacity="0.8" stroke-width="1.2"/><circle cx="1520.6" cy="893" r="6.4" fill="#3f4c8b" fill-opacity="0.8" stroke="#3f4c8b" stroke-opacity="0.8" stroke-width="1.2"/><circle cx="1522" cy="873.8" r="6.4" fill="#3b528b" fill-opacity="0.8" stroke="#3b528b" stroke-opacity="0.8" stroke-width="1.2"/><circle cx="1527" cy="889.8" r="6.4" fill="#3b528b" fill-opacity="0.8" stroke="#3b528b" stroke-opacity="0.8" stroke-width="1.2"/><circle cx="1162" cy="570.5" r="6.4" fill="#2c998c" fill-opacity="0.8" stroke="#2c998c" stroke-opacity="0.8" stroke-width="1.2"/><circle cx="1172.8" cy="566" r="6.4" fill="#2c998c" fill-opacity="0.8" stroke="#2c998c" stroke-opacity="0.8" stroke-width="1.2"/><circle cx="1149" cy="569.5" r="6.4" fill="#3fbb80" fill-opacity="0.8" stroke="#3fbb80" stroke-opacity="0.8" stroke-width="1.2"/><circle cx="1144.3" cy="565.5" r="6.4" fill="#70d469" fill-opacity="0.8" stroke="#70d469" stroke-opacity="0.8" stroke-width="1.2"/><circle cx="1149.5" cy="562" r="6.4" fill="#e8f032" fill-opacity="0.8" stroke="#e8f032" stroke-opacity="0.8" stroke-width="1.2"/><circle cx="1157" cy="562" r="6.4" fill="#e8f032" fill-opacity="0.8" stroke="#e8f032" stroke-opacity="0.8" stroke-width="1.2"/><circle cx="1165" cy="560" r="6.4" fill="#e8f032" fill-opacity="0.8" stroke="#e8f032" stroke-opacity="0.8" stroke-width="1.2"/><circle cx="1153" cy="571.6" r="6.4" fill="#e8f032" fill-opacity="0.8" stroke="#e8f032" stroke-opacity="0.8" stroke-width="1.2"/><circle cx="1160" cy="566" r="6.4" fill="#e8f032" fill-opacity="0.8" stroke="#e8f032" stroke-opacity="0.8" stroke-width="1.2"/><line x1="1112.4" y1="902.11" x2="1532.4" y2="902.11" stroke="#000" stroke-opacity="0.5" stroke-width="3.2" stroke-dasharray="13.1 6.26"/><line x1="1153.52" y1="939.6" x2="1153.52" y2="556.8" stroke="#000" stroke-opacity="0.5" stroke-width="3.2" stroke-dasharray="13.1 6.26"/></g><rect x="1112.4" y="556.8" width="420" height="382.8" fill="none" stroke="#000" stroke-width="1.9" stroke-linejoin="miter" stroke-linecap="square"/><text class="tk" transform="translate(1112.4 974.9) scale(1 1.04)" text-anchor="middle">0.00</text><text class="tk" transform="translate(1215.2 974.9) scale(1 1.04)" text-anchor="middle">0.25</text><text class="tk" transform="translate(1318 974.9) scale(1 1.04)" text-anchor="middle">0.50</text><text class="tk" transform="translate(1420.8 974.9) scale(1 1.04)" text-anchor="middle">0.75</text><text class="tk" transform="translate(1523.6 974.9) scale(1 1.04)" text-anchor="middle">1.00</text><text class="tk" transform="translate(1094.8 948.2) scale(1 1.04)" text-anchor="end">0.0</text><text class="tk" transform="translate(1094.8 873.22) scale(1 1.04)" text-anchor="end">0.2</text><text class="tk" transform="translate(1094.8 798.24) scale(1 1.04)" text-anchor="end">0.4</text><text class="tk" transform="translate(1094.8 723.26) scale(1 1.04)" text-anchor="end">0.6</text><text class="tk" transform="translate(1094.8 648.28) scale(1 1.04)" text-anchor="end">0.8</text><text class="tk" transform="translate(1094.8 573.3) scale(1 1.04)" text-anchor="end">1.0</text><path d="M1112.4 939.6v8.6M1215.2 939.6v8.6M1318 939.6v8.6M1420.8 939.6v8.6M1523.6 939.6v8.6M1112.4 939.6h-8.6M1112.4 864.62h-8.6M1112.4 789.64h-8.6M1112.4 714.66h-8.6M1112.4 639.68h-8.6M1112.4 564.7h-8.6" stroke="#000" stroke-width="1.9" fill="none"/><text class="lab" transform="translate(1322.4 1005.8) scale(1 1.04)" text-anchor="middle">In-context test</text><text class="lab" transform="translate(1046.1 748.2) rotate(-90) scale(1 1.04)" text-anchor="middle">In-weights test</text><text class="ttl" x="1322.4" y="541.5" text-anchor="middle"><tspan class="dj">n</tspan><tspan class="dj" font-size="20.5" dy="4.4">layers</tspan><tspan dy="-4.4"> = 5, </tspan><tspan class="dj">n</tspan><tspan class="dj" font-size="20.5" dy="4.4">heads</tspan><tspan dy="-4.4"> = 2</tspan></text>
<g clip-path="url(#c13)"><circle cx="1660.6" cy="890.5" r="6.4" fill="#471268" fill-opacity="0.8" stroke="#471268" stroke-opacity="0.8" stroke-width="1.2"/><circle cx="1660.6" cy="898.9" r="6.4" fill="#471268" fill-opacity="0.8" stroke="#471268" stroke-opacity="0.8" stroke-width="1.2"/><circle cx="2030.4" cy="889.7" r="6.4" fill="#48166b" fill-opacity="0.8" stroke="#48166b" stroke-opacity="0.8" stroke-width="1.2"/><circle cx="2033" cy="906" r="6.4" fill="#48166b" fill-opacity="0.8" stroke="#48166b" stroke-opacity="0.8" stroke-width="1.2"/><circle cx="2039.8" cy="907.7" r="6.4" fill="#48166b" fill-opacity="0.8" stroke="#48166b" stroke-opacity="0.8" stroke-width="1.2"/><circle cx="2041" cy="898" r="6.4" fill="#41468a" fill-opacity="0.8" stroke="#41468a" stroke-opacity="0.8" stroke-width="1.2"/><circle cx="2036" cy="897" r="6.4" fill="#40498b" fill-opacity="0.8" stroke="#40498b" stroke-opacity="0.8" stroke-width="1.2"/><circle cx="2029.1" cy="901.6" r="6.4" fill="#40498b" fill-opacity="0.8" stroke="#40498b" stroke-opacity="0.8" stroke-width="1.2"/><circle cx="2034.5" cy="887.6" r="6.4" fill="#3f4c8b" fill-opacity="0.8" stroke="#3f4c8b" stroke-opacity="0.8" stroke-width="1.2"/><circle cx="2024.8" cy="877.4" r="6.4" fill="#3b528b" fill-opacity="0.8" stroke="#3b528b" stroke-opacity="0.8" stroke-width="1.2"/><circle cx="1662.7" cy="573.9" r="6.4" fill="#2c998c" fill-opacity="0.8" stroke="#2c998c" stroke-opacity="0.8" stroke-width="1.2"/><circle cx="1659" cy="570" r="6.4" fill="#61ce71" fill-opacity="0.8" stroke="#61ce71" stroke-opacity="0.8" stroke-width="1.2"/><circle cx="1652" cy="567.5" r="6.4" fill="#70d469" fill-opacity="0.8" stroke="#70d469" stroke-opacity="0.8" stroke-width="1.2"/><circle cx="1681" cy="568.6" r="6.4" fill="#70d469" fill-opacity="0.8" stroke="#70d469" stroke-opacity="0.8" stroke-width="1.2"/><circle cx="1649" cy="560" r="6.4" fill="#e8f032" fill-opacity="0.8" stroke="#e8f032" stroke-opacity="0.8" stroke-width="1.2"/><circle cx="1657" cy="563" r="6.4" fill="#e8f032" fill-opacity="0.8" stroke="#e8f032" stroke-opacity="0.8" stroke-width="1.2"/><circle cx="1665" cy="564" r="6.4" fill="#e8f032" fill-opacity="0.8" stroke="#e8f032" stroke-opacity="0.8" stroke-width="1.2"/><circle cx="1673" cy="562" r="6.4" fill="#e8f032" fill-opacity="0.8" stroke="#e8f032" stroke-opacity="0.8" stroke-width="1.2"/><circle cx="1679" cy="561" r="6.4" fill="#e8f032" fill-opacity="0.8" stroke="#e8f032" stroke-opacity="0.8" stroke-width="1.2"/><line x1="1624.7" y1="902.11" x2="2044.7" y2="902.11" stroke="#000" stroke-opacity="0.5" stroke-width="3.2" stroke-dasharray="13.1 6.26"/><line x1="1665.82" y1="939.6" x2="1665.82" y2="556.8" stroke="#000" stroke-opacity="0.5" stroke-width="3.2" stroke-dasharray="13.1 6.26"/></g><rect x="1624.7" y="556.8" width="420" height="382.8" fill="none" stroke="#000" stroke-width="1.9" stroke-linejoin="miter" stroke-linecap="square"/><text class="tk" transform="translate(1624.7 974.9) scale(1 1.04)" text-anchor="middle">0.00</text><text class="tk" transform="translate(1727.5 974.9) scale(1 1.04)" text-anchor="middle">0.25</text><text class="tk" transform="translate(1830.3 974.9) scale(1 1.04)" text-anchor="middle">0.50</text><text class="tk" transform="translate(1933.1 974.9) scale(1 1.04)" text-anchor="middle">0.75</text><text class="tk" transform="translate(2035.9 974.9) scale(1 1.04)" text-anchor="middle">1.00</text><text class="tk" transform="translate(1607.1 948.2) scale(1 1.04)" text-anchor="end">0.0</text><text class="tk" transform="translate(1607.1 873.22) scale(1 1.04)" text-anchor="end">0.2</text><text class="tk" transform="translate(1607.1 798.24) scale(1 1.04)" text-anchor="end">0.4</text><text class="tk" transform="translate(1607.1 723.26) scale(1 1.04)" text-anchor="end">0.6</text><text class="tk" transform="translate(1607.1 648.28) scale(1 1.04)" text-anchor="end">0.8</text><text class="tk" transform="translate(1607.1 573.3) scale(1 1.04)" text-anchor="end">1.0</text><path d="M1624.7 939.6v8.6M1727.5 939.6v8.6M1830.3 939.6v8.6M1933.1 939.6v8.6M2035.9 939.6v8.6M1624.7 939.6h-8.6M1624.7 864.62h-8.6M1624.7 789.64h-8.6M1624.7 714.66h-8.6M1624.7 639.68h-8.6M1624.7 564.7h-8.6" stroke="#000" stroke-width="1.9" fill="none"/><text class="lab" transform="translate(1834.7 1005.8) scale(1 1.04)" text-anchor="middle">In-context test</text><text class="lab" transform="translate(1558.4 748.2) rotate(-90) scale(1 1.04)" text-anchor="middle">In-weights test</text><text class="ttl" x="1834.7" y="541.5" text-anchor="middle"><tspan class="dj">n</tspan><tspan class="dj" font-size="20.5" dy="4.4">layers</tspan><tspan dy="-4.4"> = 10, </tspan><tspan class="dj">n</tspan><tspan class="dj" font-size="20.5" dy="4.4">heads</tspan><tspan dy="-4.4"> = 2</tspan></text>
<g clip-path="url(#c20)"><circle cx="198.4" cy="1418" r="6.4" fill="#460f64" fill-opacity="0.8" stroke="#460f64" stroke-opacity="0.8" stroke-width="1.2"/><circle cx="205" cy="1411.9" r="6.4" fill="#460f64" fill-opacity="0.8" stroke="#460f64" stroke-opacity="0.8" stroke-width="1.2"/><circle cx="211.5" cy="1414.1" r="6.4" fill="#460f64" fill-opacity="0.8" stroke="#460f64" stroke-opacity="0.8" stroke-width="1.2"/><circle cx="214.4" cy="1423" r="6.4" fill="#460f64" fill-opacity="0.8" stroke="#460f64" stroke-opacity="0.8" stroke-width="1.2"/><circle cx="209" cy="1419" r="6.4" fill="#460f64" fill-opacity="0.8" stroke="#460f64" stroke-opacity="0.8" stroke-width="1.2"/><circle cx="206" cy="1421" r="6.4" fill="#460f64" fill-opacity="0.8" stroke="#460f64" stroke-opacity="0.8" stroke-width="1.2"/><circle cx="213" cy="1417" r="6.4" fill="#460f64" fill-opacity="0.8" stroke="#460f64" stroke-opacity="0.8" stroke-width="1.2"/><circle cx="202.1" cy="1423.2" r="6.4" fill="#471268" fill-opacity="0.8" stroke="#471268" stroke-opacity="0.8" stroke-width="1.2"/><circle cx="220.3" cy="1417" r="6.4" fill="#471268" fill-opacity="0.8" stroke="#471268" stroke-opacity="0.8" stroke-width="1.2"/><circle cx="221.3" cy="1429.7" r="6.4" fill="#48166b" fill-opacity="0.8" stroke="#48166b" stroke-opacity="0.8" stroke-width="1.2"/><circle cx="175.4" cy="1291.4" r="6.4" fill="#3f4c8b" fill-opacity="0.8" stroke="#3f4c8b" stroke-opacity="0.8" stroke-width="1.2"/><circle cx="186.7" cy="1303.2" r="6.4" fill="#3f4c8b" fill-opacity="0.8" stroke="#3f4c8b" stroke-opacity="0.8" stroke-width="1.2"/><circle cx="188.2" cy="1317.4" r="6.4" fill="#3f4c8b" fill-opacity="0.8" stroke="#3f4c8b" stroke-opacity="0.8" stroke-width="1.2"/><circle cx="190.6" cy="1323.3" r="6.4" fill="#3f4c8b" fill-opacity="0.8" stroke="#3f4c8b" stroke-opacity="0.8" stroke-width="1.2"/><circle cx="167.1" cy="1280.6" r="6.4" fill="#3b528b" fill-opacity="0.8" stroke="#3b528b" stroke-opacity="0.8" stroke-width="1.2"/><circle cx="161.2" cy="1288" r="6.4" fill="#3b528b" fill-opacity="0.8" stroke="#3b528b" stroke-opacity="0.8" stroke-width="1.2"/><circle cx="179" cy="1306.6" r="6.4" fill="#3b528b" fill-opacity="0.8" stroke="#3b528b" stroke-opacity="0.8" stroke-width="1.2"/><circle cx="197" cy="1311.5" r="6.4" fill="#3b528b" fill-opacity="0.8" stroke="#3b528b" stroke-opacity="0.8" stroke-width="1.2"/><circle cx="116.8" cy="1083" r="6.4" fill="#2d938c" fill-opacity="0.8" stroke="#2d938c" stroke-opacity="0.8" stroke-width="1.2"/><circle cx="134.6" cy="1088.7" r="6.4" fill="#2ca08b" fill-opacity="0.8" stroke="#2ca08b" stroke-opacity="0.8" stroke-width="1.2"/><circle cx="147.5" cy="1081" r="6.4" fill="#70d469" fill-opacity="0.8" stroke="#70d469" stroke-opacity="0.8" stroke-width="1.2"/><circle cx="118.7" cy="1082" r="6.4" fill="#e8f032" fill-opacity="0.8" stroke="#e8f032" stroke-opacity="0.8" stroke-width="1.2"/><circle cx="126" cy="1083" r="6.4" fill="#e8f032" fill-opacity="0.8" stroke="#e8f032" stroke-opacity="0.8" stroke-width="1.2"/><circle cx="128" cy="1078" r="6.4" fill="#e8f032" fill-opacity="0.8" stroke="#e8f032" stroke-opacity="0.8" stroke-width="1.2"/><circle cx="135" cy="1080" r="6.4" fill="#e8f032" fill-opacity="0.8" stroke="#e8f032" stroke-opacity="0.8" stroke-width="1.2"/><circle cx="139" cy="1084" r="6.4" fill="#e8f032" fill-opacity="0.8" stroke="#e8f032" stroke-opacity="0.8" stroke-width="1.2"/><circle cx="142" cy="1078" r="6.4" fill="#e8f032" fill-opacity="0.8" stroke="#e8f032" stroke-opacity="0.8" stroke-width="1.2"/><line x1="86.9" y1="1419.21" x2="506.9" y2="1419.21" stroke="#000" stroke-opacity="0.5" stroke-width="3.2" stroke-dasharray="13.1 6.26"/><line x1="128.02" y1="1456.7" x2="128.02" y2="1073.9" stroke="#000" stroke-opacity="0.5" stroke-width="3.2" stroke-dasharray="13.1 6.26"/></g><rect x="86.9" y="1073.9" width="420" height="382.8" fill="none" stroke="#000" stroke-width="1.9" stroke-linejoin="miter" stroke-linecap="square"/><text class="tk" transform="translate(86.9 1492) scale(1 1.04)" text-anchor="middle">0.00</text><text class="tk" transform="translate(189.7 1492) scale(1 1.04)" text-anchor="middle">0.25</text><text class="tk" transform="translate(292.5 1492) scale(1 1.04)" text-anchor="middle">0.50</text><text class="tk" transform="translate(395.3 1492) scale(1 1.04)" text-anchor="middle">0.75</text><text class="tk" transform="translate(498.1 1492) scale(1 1.04)" text-anchor="middle">1.00</text><text class="tk" transform="translate(69.3 1465.3) scale(1 1.04)" text-anchor="end">0.0</text><text class="tk" transform="translate(69.3 1390.32) scale(1 1.04)" text-anchor="end">0.2</text><text class="tk" transform="translate(69.3 1315.34) scale(1 1.04)" text-anchor="end">0.4</text><text class="tk" transform="translate(69.3 1240.36) scale(1 1.04)" text-anchor="end">0.6</text><text class="tk" transform="translate(69.3 1165.38) scale(1 1.04)" text-anchor="end">0.8</text><text class="tk" transform="translate(69.3 1090.4) scale(1 1.04)" text-anchor="end">1.0</text><path d="M86.9 1456.7v8.6M189.7 1456.7v8.6M292.5 1456.7v8.6M395.3 1456.7v8.6M498.1 1456.7v8.6M86.9 1456.7h-8.6M86.9 1381.72h-8.6M86.9 1306.74h-8.6M86.9 1231.76h-8.6M86.9 1156.78h-8.6M86.9 1081.8h-8.6" stroke="#000" stroke-width="1.9" fill="none"/><text class="lab" transform="translate(296.9 1522.9) scale(1 1.04)" text-anchor="middle">In-context test</text><text class="lab" transform="translate(20.6 1265.3) rotate(-90) scale(1 1.04)" text-anchor="middle">In-weights test</text><text class="ttl" x="296.9" y="1058.6" text-anchor="middle"><tspan class="dj">n</tspan><tspan class="dj" font-size="20.5" dy="4.4">layers</tspan><tspan dy="-4.4"> = 1, </tspan><tspan class="dj">n</tspan><tspan class="dj" font-size="20.5" dy="4.4">heads</tspan><tspan dy="-4.4"> = 4</tspan></text>
<g clip-path="url(#c21)"><circle cx="1007.3" cy="1423" r="6.4" fill="#48166b" fill-opacity="0.8" stroke="#48166b" stroke-opacity="0.8" stroke-width="1.2"/><circle cx="1013.5" cy="1420" r="6.4" fill="#4a2679" fill-opacity="0.8" stroke="#4a2679" stroke-opacity="0.8" stroke-width="1.2"/><circle cx="1008" cy="1417" r="6.4" fill="#41468a" fill-opacity="0.8" stroke="#41468a" stroke-opacity="0.8" stroke-width="1.2"/><circle cx="1016" cy="1418" r="6.4" fill="#41468a" fill-opacity="0.8" stroke="#41468a" stroke-opacity="0.8" stroke-width="1.2"/><circle cx="1000.4" cy="1412.7" r="6.4" fill="#40498b" fill-opacity="0.8" stroke="#40498b" stroke-opacity="0.8" stroke-width="1.2"/><circle cx="1009" cy="1409" r="6.4" fill="#40498b" fill-opacity="0.8" stroke="#40498b" stroke-opacity="0.8" stroke-width="1.2"/><circle cx="1016" cy="1411" r="6.4" fill="#40498b" fill-opacity="0.8" stroke="#40498b" stroke-opacity="0.8" stroke-width="1.2"/><circle cx="707" cy="1263.5" r="6.4" fill="#3b528b" fill-opacity="0.8" stroke="#3b528b" stroke-opacity="0.8" stroke-width="1.2"/><circle cx="714.9" cy="1282.1" r="6.4" fill="#3b528b" fill-opacity="0.8" stroke="#3b528b" stroke-opacity="0.8" stroke-width="1.2"/><circle cx="706.8" cy="1298.8" r="6.4" fill="#3b528b" fill-opacity="0.8" stroke="#3b528b" stroke-opacity="0.8" stroke-width="1.2"/><circle cx="1005" cy="1400.1" r="6.4" fill="#3b528b" fill-opacity="0.8" stroke="#3b528b" stroke-opacity="0.8" stroke-width="1.2"/><circle cx="657.8" cy="1086.8" r="6.4" fill="#2d938c" fill-opacity="0.8" stroke="#2d938c" stroke-opacity="0.8" stroke-width="1.2"/><circle cx="651.4" cy="1092.5" r="6.4" fill="#2d938c" fill-opacity="0.8" stroke="#2d938c" stroke-opacity="0.8" stroke-width="1.2"/><circle cx="628" cy="1084.4" r="6.4" fill="#7ad862" fill-opacity="0.8" stroke="#7ad862" stroke-opacity="0.8" stroke-width="1.2"/><circle cx="655" cy="1078" r="6.4" fill="#84dc5a" fill-opacity="0.8" stroke="#84dc5a" stroke-opacity="0.8" stroke-width="1.2"/><circle cx="631.6" cy="1091" r="6.4" fill="#e8f032" fill-opacity="0.8" stroke="#e8f032" stroke-opacity="0.8" stroke-width="1.2"/><circle cx="634" cy="1081" r="6.4" fill="#e8f032" fill-opacity="0.8" stroke="#e8f032" stroke-opacity="0.8" stroke-width="1.2"/><circle cx="641" cy="1082" r="6.4" fill="#e8f032" fill-opacity="0.8" stroke="#e8f032" stroke-opacity="0.8" stroke-width="1.2"/><circle cx="647.5" cy="1084" r="6.4" fill="#e8f032" fill-opacity="0.8" stroke="#e8f032" stroke-opacity="0.8" stroke-width="1.2"/><circle cx="644" cy="1077" r="6.4" fill="#e8f032" fill-opacity="0.8" stroke="#e8f032" stroke-opacity="0.8" stroke-width="1.2"/><line x1="599.7" y1="1419.21" x2="1019.7" y2="1419.21" stroke="#000" stroke-opacity="0.5" stroke-width="3.2" stroke-dasharray="13.1 6.26"/><line x1="640.82" y1="1456.7" x2="640.82" y2="1073.9" stroke="#000" stroke-opacity="0.5" stroke-width="3.2" stroke-dasharray="13.1 6.26"/></g><rect x="599.7" y="1073.9" width="420" height="382.8" fill="none" stroke="#000" stroke-width="1.9" stroke-linejoin="miter" stroke-linecap="square"/><text class="tk" transform="translate(599.7 1492) scale(1 1.04)" text-anchor="middle">0.00</text><text class="tk" transform="translate(702.5 1492) scale(1 1.04)" text-anchor="middle">0.25</text><text class="tk" transform="translate(805.3 1492) scale(1 1.04)" text-anchor="middle">0.50</text><text class="tk" transform="translate(908.1 1492) scale(1 1.04)" text-anchor="middle">0.75</text><text class="tk" transform="translate(1010.9 1492) scale(1 1.04)" text-anchor="middle">1.00</text><text class="tk" transform="translate(582.1 1465.3) scale(1 1.04)" text-anchor="end">0.0</text><text class="tk" transform="translate(582.1 1390.32) scale(1 1.04)" text-anchor="end">0.2</text><text class="tk" transform="translate(582.1 1315.34) scale(1 1.04)" text-anchor="end">0.4</text><text class="tk" transform="translate(582.1 1240.36) scale(1 1.04)" text-anchor="end">0.6</text><text class="tk" transform="translate(582.1 1165.38) scale(1 1.04)" text-anchor="end">0.8</text><text class="tk" transform="translate(582.1 1090.4) scale(1 1.04)" text-anchor="end">1.0</text><path d="M599.7 1456.7v8.6M702.5 1456.7v8.6M805.3 1456.7v8.6M908.1 1456.7v8.6M1010.9 1456.7v8.6M599.7 1456.7h-8.6M599.7 1381.72h-8.6M599.7 1306.74h-8.6M599.7 1231.76h-8.6M599.7 1156.78h-8.6M599.7 1081.8h-8.6" stroke="#000" stroke-width="1.9" fill="none"/><text class="lab" transform="translate(809.7 1522.9) scale(1 1.04)" text-anchor="middle">In-context test</text><text class="lab" transform="translate(533.4 1265.3) rotate(-90) scale(1 1.04)" text-anchor="middle">In-weights test</text><text class="ttl" x="809.7" y="1058.6" text-anchor="middle"><tspan class="dj">n</tspan><tspan class="dj" font-size="20.5" dy="4.4">layers</tspan><tspan dy="-4.4"> = 2, </tspan><tspan class="dj">n</tspan><tspan class="dj" font-size="20.5" dy="4.4">heads</tspan><tspan dy="-4.4"> = 4</tspan></text>
<g clip-path="url(#c22)"><circle cx="1525" cy="1425" r="6.4" fill="#471268" fill-opacity="0.8" stroke="#471268" stroke-opacity="0.8" stroke-width="1.2"/><circle cx="1528.3" cy="1405.5" r="6.4" fill="#48166b" fill-opacity="0.8" stroke="#48166b" stroke-opacity="0.8" stroke-width="1.2"/><circle cx="1517" cy="1427.4" r="6.4" fill="#491a6f" fill-opacity="0.8" stroke="#491a6f" stroke-opacity="0.8" stroke-width="1.2"/><circle cx="1526" cy="1419" r="6.4" fill="#41468a" fill-opacity="0.8" stroke="#41468a" stroke-opacity="0.8" stroke-width="1.2"/><circle cx="1520" cy="1412" r="6.4" fill="#40498b" fill-opacity="0.8" stroke="#40498b" stroke-opacity="0.8" stroke-width="1.2"/><circle cx="1528" cy="1412" r="6.4" fill="#40498b" fill-opacity="0.8" stroke="#40498b" stroke-opacity="0.8" stroke-width="1.2"/><circle cx="1512.3" cy="1411.4" r="6.4" fill="#3f4c8b" fill-opacity="0.8" stroke="#3f4c8b" stroke-opacity="0.8" stroke-width="1.2"/><circle cx="1524.8" cy="1394.4" r="6.4" fill="#3b528b" fill-opacity="0.8" stroke="#3b528b" stroke-opacity="0.8" stroke-width="1.2"/><circle cx="1520.9" cy="1399.6" r="6.4" fill="#3b528b" fill-opacity="0.8" stroke="#3b528b" stroke-opacity="0.8" stroke-width="1.2"/><circle cx="1152.9" cy="1091.5" r="6.4" fill="#2d938c" fill-opacity="0.8" stroke="#2d938c" stroke-opacity="0.8" stroke-width="1.2"/><circle cx="1153" cy="1086" r="6.4" fill="#70d469" fill-opacity="0.8" stroke="#70d469" stroke-opacity="0.8" stroke-width="1.2"/><circle cx="1145.2" cy="1089" r="6.4" fill="#e8f032" fill-opacity="0.8" stroke="#e8f032" stroke-opacity="0.8" stroke-width="1.2"/><circle cx="1149" cy="1078" r="6.4" fill="#e8f032" fill-opacity="0.8" stroke="#e8f032" stroke-opacity="0.8" stroke-width="1.2"/><circle cx="1158" cy="1081" r="6.4" fill="#e8f032" fill-opacity="0.8" stroke="#e8f032" stroke-opacity="0.8" stroke-width="1.2"/><circle cx="1165" cy="1080" r="6.4" fill="#e8f032" fill-opacity="0.8" stroke="#e8f032" stroke-opacity="0.8" stroke-width="1.2"/><circle cx="1170.8" cy="1086" r="6.4" fill="#e8f032" fill-opacity="0.8" stroke="#e8f032" stroke-opacity="0.8" stroke-width="1.2"/><circle cx="1163" cy="1087.8" r="6.4" fill="#e8f032" fill-opacity="0.8" stroke="#e8f032" stroke-opacity="0.8" stroke-width="1.2"/><line x1="1112.4" y1="1419.21" x2="1532.4" y2="1419.21" stroke="#000" stroke-opacity="0.5" stroke-width="3.2" stroke-dasharray="13.1 6.26"/><line x1="1153.52" y1="1456.7" x2="1153.52" y2="1073.9" stroke="#000" stroke-opacity="0.5" stroke-width="3.2" stroke-dasharray="13.1 6.26"/></g><rect x="1112.4" y="1073.9" width="420" height="382.8" fill="none" stroke="#000" stroke-width="1.9" stroke-linejoin="miter" stroke-linecap="square"/><text class="tk" transform="translate(1112.4 1492) scale(1 1.04)" text-anchor="middle">0.00</text><text class="tk" transform="translate(1215.2 1492) scale(1 1.04)" text-anchor="middle">0.25</text><text class="tk" transform="translate(1318 1492) scale(1 1.04)" text-anchor="middle">0.50</text><text class="tk" transform="translate(1420.8 1492) scale(1 1.04)" text-anchor="middle">0.75</text><text class="tk" transform="translate(1523.6 1492) scale(1 1.04)" text-anchor="middle">1.00</text><text class="tk" transform="translate(1094.8 1465.3) scale(1 1.04)" text-anchor="end">0.0</text><text class="tk" transform="translate(1094.8 1390.32) scale(1 1.04)" text-anchor="end">0.2</text><text class="tk" transform="translate(1094.8 1315.34) scale(1 1.04)" text-anchor="end">0.4</text><text class="tk" transform="translate(1094.8 1240.36) scale(1 1.04)" text-anchor="end">0.6</text><text class="tk" transform="translate(1094.8 1165.38) scale(1 1.04)" text-anchor="end">0.8</text><text class="tk" transform="translate(1094.8 1090.4) scale(1 1.04)" text-anchor="end">1.0</text><path d="M1112.4 1456.7v8.6M1215.2 1456.7v8.6M1318 1456.7v8.6M1420.8 1456.7v8.6M1523.6 1456.7v8.6M1112.4 1456.7h-8.6M1112.4 1381.72h-8.6M1112.4 1306.74h-8.6M1112.4 1231.76h-8.6M1112.4 1156.78h-8.6M1112.4 1081.8h-8.6" stroke="#000" stroke-width="1.9" fill="none"/><text class="lab" transform="translate(1322.4 1522.9) scale(1 1.04)" text-anchor="middle">In-context test</text><text class="lab" transform="translate(1046.1 1265.3) rotate(-90) scale(1 1.04)" text-anchor="middle">In-weights test</text><text class="ttl" x="1322.4" y="1058.6" text-anchor="middle"><tspan class="dj">n</tspan><tspan class="dj" font-size="20.5" dy="4.4">layers</tspan><tspan dy="-4.4"> = 5, </tspan><tspan class="dj">n</tspan><tspan class="dj" font-size="20.5" dy="4.4">heads</tspan><tspan dy="-4.4"> = 4</tspan></text>
<g clip-path="url(#c23)"><circle cx="1651.8" cy="1414.6" r="6.4" fill="#471268" fill-opacity="0.8" stroke="#471268" stroke-opacity="0.8" stroke-width="1.2"/><circle cx="2029.5" cy="1423.8" r="6.4" fill="#48166b" fill-opacity="0.8" stroke="#48166b" stroke-opacity="0.8" stroke-width="1.2"/><circle cx="2041" cy="1424" r="6.4" fill="#48166b" fill-opacity="0.8" stroke="#48166b" stroke-opacity="0.8" stroke-width="1.2"/><circle cx="2034" cy="1415" r="6.4" fill="#41468a" fill-opacity="0.8" stroke="#41468a" stroke-opacity="0.8" stroke-width="1.2"/><circle cx="2037" cy="1422.5" r="6.4" fill="#41468a" fill-opacity="0.8" stroke="#41468a" stroke-opacity="0.8" stroke-width="1.2"/><circle cx="2041" cy="1418" r="6.4" fill="#41468a" fill-opacity="0.8" stroke="#41468a" stroke-opacity="0.8" stroke-width="1.2"/><circle cx="2036.8" cy="1404" r="6.4" fill="#40498b" fill-opacity="0.8" stroke="#40498b" stroke-opacity="0.8" stroke-width="1.2"/><circle cx="2039" cy="1413" r="6.4" fill="#40498b" fill-opacity="0.8" stroke="#40498b" stroke-opacity="0.8" stroke-width="1.2"/><circle cx="2030.5" cy="1406.2" r="6.4" fill="#3f4c8b" fill-opacity="0.8" stroke="#3f4c8b" stroke-opacity="0.8" stroke-width="1.2"/><circle cx="2031" cy="1411" r="6.4" fill="#3f4c8b" fill-opacity="0.8" stroke="#3f4c8b" stroke-opacity="0.8" stroke-width="1.2"/><circle cx="2033.8" cy="1382" r="6.4" fill="#3b528b" fill-opacity="0.8" stroke="#3b528b" stroke-opacity="0.8" stroke-width="1.2"/><circle cx="2031.4" cy="1394.8" r="6.4" fill="#3b528b" fill-opacity="0.8" stroke="#3b528b" stroke-opacity="0.8" stroke-width="1.2"/><circle cx="1679" cy="1081" r="6.4" fill="#2d938c" fill-opacity="0.8" stroke="#2d938c" stroke-opacity="0.8" stroke-width="1.2"/><circle cx="1661.5" cy="1087.8" r="6.4" fill="#2d938c" fill-opacity="0.8" stroke="#2d938c" stroke-opacity="0.8" stroke-width="1.2"/><circle cx="1666" cy="1088.4" r="6.4" fill="#70d469" fill-opacity="0.8" stroke="#70d469" stroke-opacity="0.8" stroke-width="1.2"/><circle cx="1651.2" cy="1074.5" r="6.4" fill="#e8f032" fill-opacity="0.8" stroke="#e8f032" stroke-opacity="0.8" stroke-width="1.2"/><circle cx="1661" cy="1081" r="6.4" fill="#e8f032" fill-opacity="0.8" stroke="#e8f032" stroke-opacity="0.8" stroke-width="1.2"/><circle cx="1668" cy="1080" r="6.4" fill="#e8f032" fill-opacity="0.8" stroke="#e8f032" stroke-opacity="0.8" stroke-width="1.2"/><circle cx="1675" cy="1081" r="6.4" fill="#e8f032" fill-opacity="0.8" stroke="#e8f032" stroke-opacity="0.8" stroke-width="1.2"/><circle cx="1680.5" cy="1088.4" r="6.4" fill="#e8f032" fill-opacity="0.8" stroke="#e8f032" stroke-opacity="0.8" stroke-width="1.2"/><circle cx="1672" cy="1086" r="6.4" fill="#e8f032" fill-opacity="0.8" stroke="#e8f032" stroke-opacity="0.8" stroke-width="1.2"/><line x1="1624.7" y1="1419.21" x2="2044.7" y2="1419.21" stroke="#000" stroke-opacity="0.5" stroke-width="3.2" stroke-dasharray="13.1 6.26"/><line x1="1665.82" y1="1456.7" x2="1665.82" y2="1073.9" stroke="#000" stroke-opacity="0.5" stroke-width="3.2" stroke-dasharray="13.1 6.26"/></g><rect x="1624.7" y="1073.9" width="420" height="382.8" fill="none" stroke="#000" stroke-width="1.9" stroke-linejoin="miter" stroke-linecap="square"/><text class="tk" transform="translate(1624.7 1492) scale(1 1.04)" text-anchor="middle">0.00</text><text class="tk" transform="translate(1727.5 1492) scale(1 1.04)" text-anchor="middle">0.25</text><text class="tk" transform="translate(1830.3 1492) scale(1 1.04)" text-anchor="middle">0.50</text><text class="tk" transform="translate(1933.1 1492) scale(1 1.04)" text-anchor="middle">0.75</text><text class="tk" transform="translate(2035.9 1492) scale(1 1.04)" text-anchor="middle">1.00</text><text class="tk" transform="translate(1607.1 1465.3) scale(1 1.04)" text-anchor="end">0.0</text><text class="tk" transform="translate(1607.1 1390.32) scale(1 1.04)" text-anchor="end">0.2</text><text class="tk" transform="translate(1607.1 1315.34) scale(1 1.04)" text-anchor="end">0.4</text><text class="tk" transform="translate(1607.1 1240.36) scale(1 1.04)" text-anchor="end">0.6</text><text class="tk" transform="translate(1607.1 1165.38) scale(1 1.04)" text-anchor="end">0.8</text><text class="tk" transform="translate(1607.1 1090.4) scale(1 1.04)" text-anchor="end">1.0</text><path d="M1624.7 1456.7v8.6M1727.5 1456.7v8.6M1830.3 1456.7v8.6M1933.1 1456.7v8.6M2035.9 1456.7v8.6M1624.7 1456.7h-8.6M1624.7 1381.72h-8.6M1624.7 1306.74h-8.6M1624.7 1231.76h-8.6M1624.7 1156.78h-8.6M1624.7 1081.8h-8.6" stroke="#000" stroke-width="1.9" fill="none"/><text class="lab" transform="translate(1834.7 1522.9) scale(1 1.04)" text-anchor="middle">In-context test</text><text class="lab" transform="translate(1558.4 1265.3) rotate(-90) scale(1 1.04)" text-anchor="middle">In-weights test</text><text class="ttl" x="1834.7" y="1058.6" text-anchor="middle"><tspan class="dj">n</tspan><tspan class="dj" font-size="20.5" dy="4.4">layers</tspan><tspan dy="-4.4"> = 10, </tspan><tspan class="dj">n</tspan><tspan class="dj" font-size="20.5" dy="4.4">heads</tspan><tspan dy="-4.4"> = 4</tspan></text>
<rect x="2087.7" y="536.1" width="20.1" height="411.5" fill="url(#cbg)"/>
<text class="tk" transform="translate(2116.4 957.6) scale(1 1.04)">0</text>
<text class="tk" transform="translate(2116.4 854.4) scale(1 1.04)">1</text>
<text class="tk" transform="translate(2116.4 751.2) scale(1 1.04)">2</text>
<text class="tk" transform="translate(2116.4 648) scale(1 1.04)">3</text>
<text class="tk" transform="translate(2116.4 544.8) scale(1 1.04)">4</text>
<text x="2143" y="754.6" style="font-family:'DejaVu Math TeX Gyre','DejaVu Serif',serif;font-style:italic;font-weight:bold;font-size:26px;">α</text>
</svg></body></html>
